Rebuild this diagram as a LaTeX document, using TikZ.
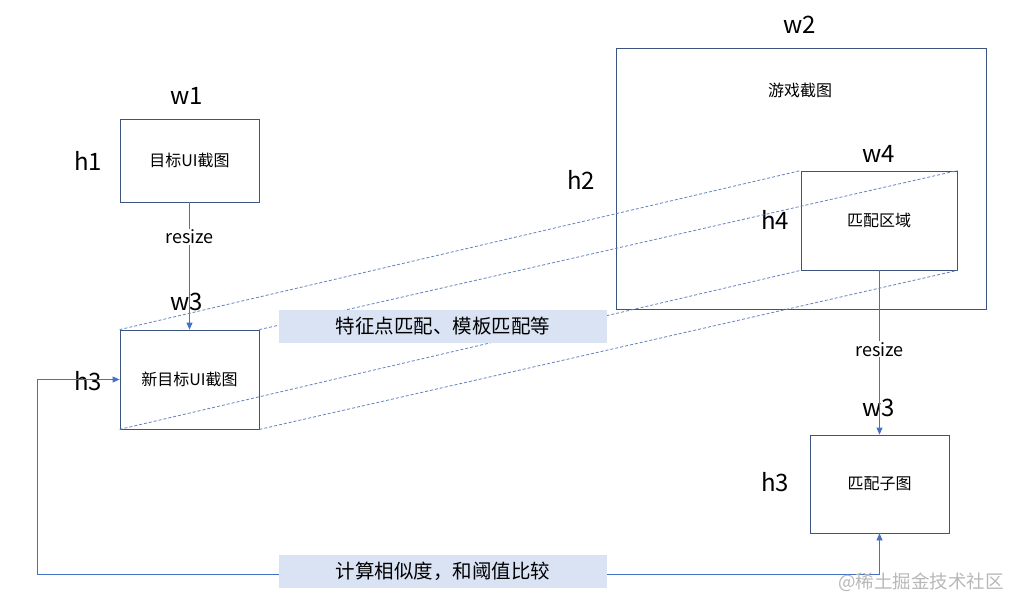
\documentclass[tikz,border=0pt]{standalone}
\usepackage{fontspec}
\setmainfont{Noto Sans CJK SC}
\usepackage{tikz}
\usetikzlibrary{arrows.meta}

\definecolor{framecol}{HTML}{3B5580}
\definecolor{linkcol}{HTML}{4472C4}
\definecolor{dashcol}{HTML}{6482C0}
\definecolor{notecol}{HTML}{DAE3F3}

\tikzset{
    frame/.style = {draw=framecol, line width=0.8pt, inner sep=0pt, font=\fontsize{16}{19}\selectfont},
    dim/.style = {font=\fontsize{24}{28}\selectfont},
    link/.style = {draw=linkcol, line width=0.8pt, -{Triangle[length=7pt,width=6pt]}},
    match/.style = {draw=dashcol, line width=0.8pt, dash pattern=on 3pt off 2pt},
    note/.style = {fill=notecol, minimum width=328pt, minimum height=33pt, inner sep=0pt, font=\fontsize{19.5}{22}\selectfont},
    tag/.style = {fill=white, inner sep=1pt, font=\fontsize{18}{20}\selectfont}
}

\begin{document}
\begin{tikzpicture}[x=1pt, y=-1pt]
    \useasboundingbox (0,0) rectangle (1024,612);

    % boxes
    \node[frame, minimum width=139pt, minimum height=83pt] (ui) at (189.5,160.5) {目标UI截图};
    \node[frame, minimum width=139pt, minimum height=99pt] (newui) at (189.5,379.5) {新目标UI截图};
    \node[frame, minimum width=370pt, minimum height=261pt] (game) at (801,178.5) {};
    \node[font=\fontsize{16}{19}\selectfont] (gametext) at (800,90) {游戏截图};
    \node[frame, minimum width=156pt, minimum height=99pt] (region) at (879,220.5) {匹配区域};
    \node[frame, minimum width=139pt, minimum height=98pt] (patch) at (879.5,484) {匹配子图};

    % sizes
    \node[dim] (w1) at (187,96) {w1};
    \node[dim] (h1) at (88,161) {h1};
    \node[dim] (w3a) at (187,302) {w3};
    \node[dim] (h3a) at (88,381) {h3};
    \node[dim] (w2) at (800,25) {w2};
    \node[dim] (h2) at (581,180) {h2};
    \node[dim] (w4) at (879,154) {w4};
    \node[dim] (h4) at (775,220) {h4};
    \node[dim] (w3b) at (879,408) {w3};
    \node[dim] (h3b) at (775,482) {h3};

    % resize arrows
    \draw[link] (ui.south) -- node[tag, pos=0.27] {resize} (newui.north);
    \draw[link] (region.south -| patch.north) -- node[tag, pos=0.48] {resize} (patch.north);

    % matching lines
    \draw[match] (newui.north west) -- (region.north west);
    \draw[match] (newui.north east) -- (region.north east);
    \draw[match] (newui.south west) -- (region.south west);
    \draw[match] (newui.south east) -- (region.south east);
    \node[note] (feat) at (443,326.5) {特征点匹配、模板匹配等};

    % compare loop
    \coordinate (loop) at (37,574);
    \draw[link, {Triangle[length=7pt,width=6pt]}-{Triangle[length=7pt,width=6pt]}] (newui.west) -| (loop) -| (patch.south);
    \node[note] (cmp) at (443,571.5) {计算相似度，和阈值比较};

    \node[text=black!28, font=\fontsize{18.5}{21}\selectfont] (mark) at (921,582) {@稀土掘金技术社区};
\end{tikzpicture}
\end{document}
